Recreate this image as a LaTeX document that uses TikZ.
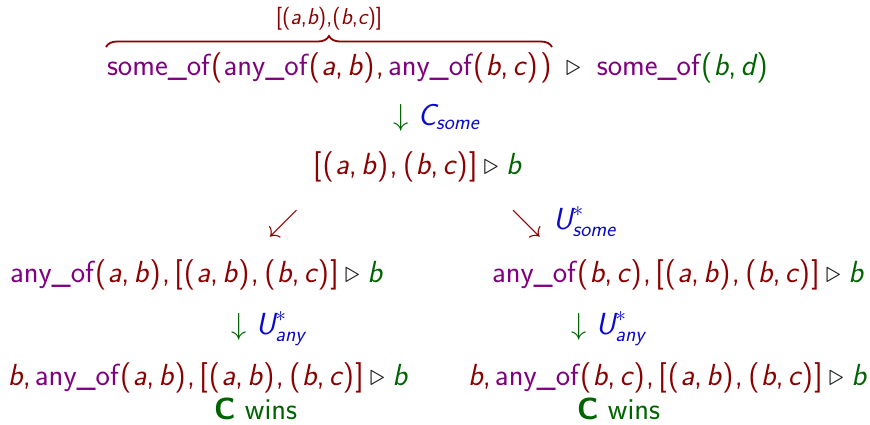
\RequirePackage{fix-cm}
\documentclass[tikz,border=0pt]{standalone}
\usepackage{amsmath,amssymb}
\usepackage{fontspec}
\usetikzlibrary{decorations.pathreplacing}
\renewcommand{\familydefault}{\sfdefault}
\definecolor{pur}{RGB}{128,0,128}
\definecolor{dred}{RGB}{139,0,0}
\definecolor{dgreen}{RGB}{0,100,0}
\definecolor{lblue}{RGB}{10,10,200}
\definecolor{tricol}{RGB}{30,30,30}
\newcommand{\V}[1]{{\slshape #1}}
\newcommand{\cm}{,\kern0.14em}
\newcommand{\lp}{\kern1.3pt(\kern1.3pt}
\newcommand{\rp}{\kern1.3pt)\kern1.3pt}
\newcommand{\SO}{\textcolor{pur}{some\_of}}
\newcommand{\AO}{\textcolor{pur}{any\_of}}
\newcommand{\tri}{\kern0.2em\textcolor{tricol}{$\triangleright$}\kern0.25em}
\newcommand{\pairs}{\textcolor{dred}{[\lp\V{a}\cm\V{b}\rp\cm\lp\V{b}\cm\V{c}\rp]}}
\newcommand{\dn}{\textcolor{dgreen}{$\downarrow$}}
\begin{document}
\begin{tikzpicture}[x=1pt,y=1pt,
  every node/.style={inner sep=0pt, outer sep=0pt, font=\fontsize{30.5}{36}\selectfont},
  small/.style={font=\fontsize{23}{27}\selectfont}]
\useasboundingbox (0,0) rectangle (870,-424);
% line 1
\node[anchor=base west] (l1a) at (107,-75)
  {\SO\textcolor{dred}{\lp}\AO\textcolor{dred}{\lp\V{a}\cm\V{b}\rp\cm}\AO\textcolor{dred}{\lp\V{b}\cm\V{c}\rp\rp}};
\node[anchor=base west] (l1b) at ([xshift=13pt]l1a.base east)
  {\textcolor{tricol}{$\triangleright$}\kern16pt\SO\textcolor{dgreen}{\lp\V{b}\cm\V{d}\rp}};
\coordinate (bl) at (106,-47);
\coordinate (br) at (552,-47);
\draw[dred, line width=1.8pt, decorate, decoration={brace, amplitude=11pt}] (bl) -- (br);
\node[small, anchor=base, text=dred] (lab) at (329,-24) {[(\V{a},\V{b}),(\V{b},\V{c})]};
% step C_some
\node[anchor=base west] (a1) at (393,-125)
  {\dn\ \textcolor{lblue}{$\text{\V{C}}_{\text{\V{some}}}$}};
\node[anchor=base west] (n2) at (313,-174) {\pairs\tri\textcolor{dgreen}{\V{b}}};
% split
\node[anchor=base west, text=dred] (dl) at (268,-231) {$\swarrow$};
\node[anchor=base west, text=dred] (dr) at (511,-231) {$\searrow$};
\node[anchor=base west] (ul) at (553,-229)
  {\textcolor{lblue}{$\text{\V{U}}^{*}_{\text{\V{some}}}$}};
% level 3
\node[anchor=base west] (n3l) at (10,-282)
  {\AO\textcolor{dred}{\lp\V{a}\cm\V{b}\rp\cm}\pairs\tri\textcolor{dgreen}{\V{b}}};
\node[anchor=base west] (n3r) at (492,-282)
  {\AO\textcolor{dred}{\lp\V{b}\cm\V{c}\rp\cm}\pairs\tri\textcolor{dgreen}{\V{b}}};
\node[anchor=base west] (a3l) at (231,-334)
  {\dn\ \textcolor{lblue}{$\text{\V{U}}^{*}_{\text{\V{any}}}$}};
\node[anchor=base west] (a3r) at (571,-334)
  {\dn\ \textcolor{lblue}{$\text{\V{U}}^{*}_{\text{\V{any}}}$}};
% level 4
\node[anchor=base west] (n4l) at (8,-385)
  {\textcolor{dred}{\V{b}\cm}\AO\textcolor{dred}{\lp\V{a}\cm\V{b}\rp\cm}\pairs\tri\textcolor{dgreen}{\V{b}}};
\node[anchor=base west] (n4r) at (468,-385)
  {\textcolor{dred}{\V{b}\cm}\AO\textcolor{dred}{\lp\V{b}\cm\V{c}\rp\cm}\pairs\tri\textcolor{dgreen}{\V{b}}};
\node[anchor=base west, text=dgreen] (wl) at (214,-419) {\textbf{C} wins};
\node[anchor=base west, text=dgreen] (wr) at (577,-419) {\textbf{C} wins};
\end{tikzpicture}
\end{document}
